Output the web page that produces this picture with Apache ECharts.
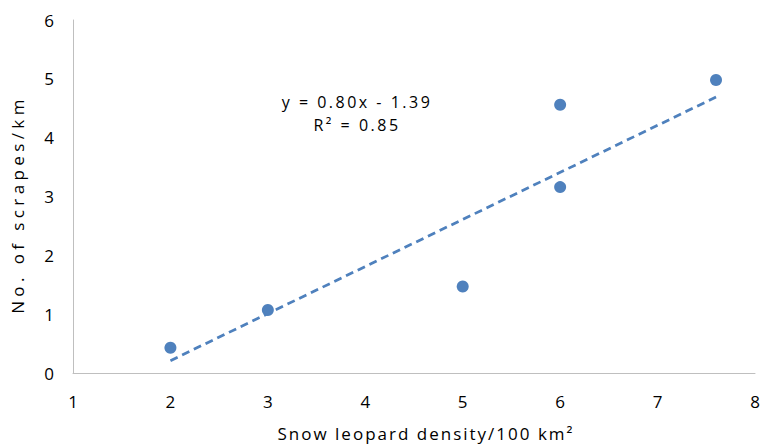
<!DOCTYPE html>
<html>
<head>
<meta charset="utf-8">
<script src="https://cdn.jsdelivr.net/npm/echarts@6/dist/echarts.min.js"></script>
<style>
  html, body { margin: 0; padding: 0; background: #fff; }
  #chart { width: 763px; height: 447px; }
</style>
</head>
<body>
<div id="chart"></div>
<script>
// Survey sites: snow leopard density vs. scrape frequency
const densities = [2, 3, 5, 6, 6, 7.6];
const scrapes = [0.43, 1.07, 1.47, 4.56, 3.16, 4.98];

// Linear fit as reported
const fitSlope = 0.80;
const fitIntercept = -1.39;
const fitR2 = 0.85;
const fitRange = [2, 7.6];

const xTicks = [1, 8, 1];   // min, max, step
const yTicks = [0, 6, 1];

const xTitle = 'Snow leopard density/100 km²';
const yTitle = 'No. of scrapes/km';

const FONT = '"Open Sans", "Liberation Sans", sans-serif';
const BLUE = '#4f81bd';
const AXIS = '#bfbfbf';
const TEXT = '#000';

const points = densities.map((x, i) => [x, scrapes[i]]);
const fitLine = fitRange.map(x => [x, fitSlope * x + fitIntercept]);

const fmt = v => v.toFixed(2);
const eqText = 'y = ' + fmt(fitSlope) + 'x ' + (fitIntercept < 0 ? '- ' : '+ ') + fmt(Math.abs(fitIntercept));
const r2Text = 'R² = ' + fmt(fitR2);

// Wider tracking for the longer labels (Calibri-like spacing)
const tracking = {};
tracking[xTitle] = '2px';
tracking[yTitle] = '4.4px';
tracking[eqText] = '2.5px';
tracking[r2Text] = '2.5px';

const chart = echarts.init(document.getElementById('chart'), null, { renderer: 'svg' });

chart.setOption({
  animation: false,
  backgroundColor: '#fff',
  grid: { left: 73, right: 8, top: 20, bottom: 69 },
  xAxis: {
    type: 'value',
    min: xTicks[0], max: xTicks[1], interval: xTicks[2],
    name: xTitle,
    nameLocation: 'middle',
    nameGap: 52,
    nameTextStyle: { fontFamily: FONT, fontSize: 17, color: TEXT, padding: [0, 0, 0, 24] },
    axisLine: { show: true, lineStyle: { color: AXIS, width: 1 } },
    axisTick: { show: false },
    splitLine: { show: false },
    axisLabel: { fontFamily: FONT, fontSize: 17, color: TEXT, margin: 20 }
  },
  yAxis: {
    type: 'value',
    min: yTicks[0], max: yTicks[1], interval: yTicks[2],
    name: yTitle,
    nameLocation: 'middle',
    nameGap: 47,
    nameTextStyle: { fontFamily: FONT, fontSize: 17, color: TEXT, padding: [0, 16, 0, 0] },
    axisLine: { show: true, lineStyle: { color: AXIS, width: 1 } },
    axisTick: { show: false },
    splitLine: { show: false },
    axisLabel: { fontFamily: FONT, fontSize: 17, color: TEXT, margin: 19 }
  },
  series: [
    {
      name: 'Linear fit',
      type: 'line',
      data: fitLine,
      symbol: 'none',
      z: 2,
      lineStyle: { color: BLUE, width: 2.75, type: [8, 5] }
    },
    {
      name: 'Sites',
      type: 'scatter',
      data: points,
      symbol: 'circle',
      symbolSize: 12,
      z: 3,
      itemStyle: { color: BLUE, opacity: 1 }
    }
  ]
});

// Equation and R² annotation, anchored in data coordinates
const eqPos = chart.convertToPixel({ gridIndex: 0 }, [3.915, 4.6]);
const r2Pos = chart.convertToPixel({ gridIndex: 0 }, [3.915, 4.22]);
chart.setOption({
  graphic: [
    { type: 'text', x: eqPos[0], y: eqPos[1],
      style: { text: eqText, font: '16px ' + FONT, fill: TEXT, align: 'center', verticalAlign: 'middle' } },
    { type: 'text', x: r2Pos[0], y: r2Pos[1],
      style: { text: r2Text, font: '16px ' + FONT, fill: TEXT, align: 'center', verticalAlign: 'middle' } }
  ]
});

function applyTracking() {
  document.querySelectorAll('#chart svg text').forEach(t => {
    const ls = tracking[t.textContent];
    if (ls) t.setAttribute('letter-spacing', ls);
  });
}
chart.getZr().refreshImmediately();
applyTracking();
chart.on('finished', applyTracking);
</script>
</body>
</html>
